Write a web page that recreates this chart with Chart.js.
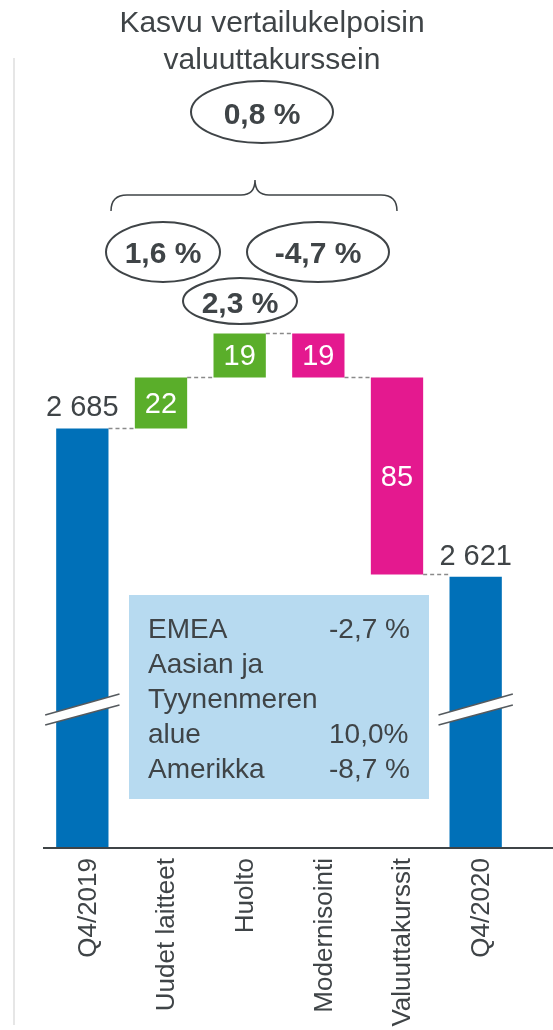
<!DOCTYPE html>
<html>
<head>
<meta charset="utf-8">
<script src="https://cdn.jsdelivr.net/npm/chart.js@4/dist/chart.umd.min.js"></script>
<style>
  html, body { margin: 0; padding: 0; background: #fff; }
</style>
</head>
<body>
<canvas id="myChart" width="553" height="1030"></canvas>
<script>
// Data
const categories = ['Q4/2019', 'Uudet laitteet', 'Huolto', 'Modernisointi', 'Valuuttakurssit', 'Q4/2020']
const changes = [2685, 22, 19, -19, -85, 2621]
const isTotal = [true, false, false, false, false, true]
const titleLines = ['Kasvu vertailukelpoisin', 'valuuttakurssein']
const totalGrowth = '0,8 %'
const growthLabels = ['1,6 %', '2,3 %', '-4,7 %']
const regions = [['EMEA'], ['Aasian ja', 'Tyynenmeren', 'alue'], ['Amerikka']]
const regionGrowth = ['-2,7 %', '10,0%', '-8,7 %']

const yMin = 2504
const yMax = 2762

const FONT = '"Liberation Sans", Arial, sans-serif'
const TEXT = '#3f4447'
const BLUE = '#0070b8'
const GREEN = '#5aae2a'
const PINK = '#e4198f'

// Floating bars: totals from axis, changes from running total
let running = 0
const ranges = changes.map((v, i) => {
  if (isTotal[i]) {
    running = v
    return [yMin, v]
  }
  const start = running
  running += v
  return [start, running]
})
const colors = changes.map((v, i) => (isTotal[i] ? BLUE : v >= 0 ? GREEN : PINK))

function fmt(v) {
  return Math.abs(v).toString().replace(/\B(?=(\d{3})+(?!\d))/g, ' ')
}

function ellipse(ctx, cx, cy, rx, ry, text, baseY) {
  ctx.beginPath()
  ctx.ellipse(cx, cy, rx, ry, 0, 0, Math.PI * 2)
  ctx.strokeStyle = TEXT
  ctx.lineWidth = 2
  ctx.stroke()
  ctx.fillStyle = TEXT
  ctx.font = 'bold 30px ' + FONT
  ctx.textAlign = 'center'
  ctx.textBaseline = 'alphabetic'
  ctx.fillText(text, cx, baseY)
}

const decor = {
  id: 'decor',
  beforeDatasetsDraw(chart) {
    const ctx = chart.ctx
    const meta = chart.getDatasetMeta(0)
    const y = chart.scales.y
    ctx.save()
    // dashed connectors
    ctx.strokeStyle = '#8a8a8a'
    ctx.lineWidth = 1.5
    ctx.setLineDash([4, 3])
    for (let i = 0; i < meta.data.length - 1; i++) {
      const a = meta.data[i]
      const b = meta.data[i + 1]
      const level = y.getPixelForValue(ranges[i][1])
      ctx.beginPath()
      ctx.moveTo(a.x + a.width / 2, level)
      ctx.lineTo(b.x - b.width / 2, level)
      ctx.stroke()
    }
    ctx.restore()
  },
  afterDatasetsDraw(chart) {
    const ctx = chart.ctx
    const meta = chart.getDatasetMeta(0)
    const area = chart.chartArea
    const y = chart.scales.y
    ctx.save()

    // left light line
    ctx.strokeStyle = '#e6e6e6'
    ctx.lineWidth = 2
    ctx.beginPath()
    ctx.moveTo(14, 58)
    ctx.lineTo(14, 1025)
    ctx.stroke()

    // axis line
    ctx.strokeStyle = TEXT
    ctx.lineWidth = 2
    ctx.beginPath()
    ctx.moveTo(area.left, area.bottom)
    ctx.lineTo(553, area.bottom)
    ctx.stroke()

    // bar labels
    meta.data.forEach((bar, i) => {
      if (isTotal[i]) {
        ctx.fillStyle = TEXT
        ctx.font = '29px ' + FONT
        ctx.textAlign = 'center'
        ctx.textBaseline = 'alphabetic'
        ctx.fillText(fmt(changes[i]), bar.x, bar.y - 12)
      } else {
        ctx.fillStyle = '#fff'
        ctx.font = '29px ' + FONT
        ctx.textAlign = 'center'
        ctx.textBaseline = 'middle'
        ctx.fillText(fmt(changes[i]), bar.x, (bar.y + bar.base) / 2 + 2)
      }
    })

    // axis break marks on total bars
    const cy = y.getPixelForValue(2564)
    meta.data.forEach((bar, i) => {
      if (!isTotal[i]) return
      const x0 = bar.x - bar.width / 2 - 11
      const x1 = bar.x + bar.width / 2 + 11
      ctx.fillStyle = '#fff'
      ctx.beginPath()
      ctx.moveTo(x0, cy + 6)
      ctx.lineTo(x1, cy - 15)
      ctx.lineTo(x1, cy - 4)
      ctx.lineTo(x0, cy + 16)
      ctx.closePath()
      ctx.fill()
      ctx.strokeStyle = '#555a5e'
      ctx.lineWidth = 1.5
      ctx.beginPath()
      ctx.moveTo(x0, cy + 6)
      ctx.lineTo(x1, cy - 15)
      ctx.moveTo(x0, cy + 16)
      ctx.lineTo(x1, cy - 4)
      ctx.stroke()
    })

    // info box
    ctx.fillStyle = '#b7daf0'
    ctx.fillRect(129, 595, 300, 204)
    ctx.fillStyle = TEXT
    ctx.font = '28px ' + FONT
    ctx.textAlign = 'left'
    ctx.textBaseline = 'alphabetic'
    let line = 0
    regions.forEach((r, i) => {
      r.forEach((t, j) => {
        ctx.fillText(t, 148, 638 + line * 35)
        if (j === r.length - 1) ctx.fillText(regionGrowth[i], 329, 638 + line * 35)
        line++
      })
    })

    // title
    ctx.font = '30px ' + FONT
    ctx.textAlign = 'center'
    ctx.fillText(titleLines[0], 272, 32)
    ctx.fillText(titleLines[1], 272, 69)

    // growth ellipses
    ellipse(ctx, 262, 112, 71, 31, totalGrowth, 124)
    ellipse(ctx, 163, 252, 57, 30, growthLabels[0], 263)
    ellipse(ctx, 240, 301, 57, 23, growthLabels[1], 313)
    ellipse(ctx, 318, 252, 71, 30, growthLabels[2], 263)

    // brace
    ctx.strokeStyle = TEXT
    ctx.lineWidth = 1.5
    ctx.beginPath()
    ctx.moveTo(111, 211)
    ctx.quadraticCurveTo(111, 195, 127, 195)
    ctx.lineTo(241, 195)
    ctx.quadraticCurveTo(255, 195, 255, 180)
    ctx.quadraticCurveTo(255, 195, 269, 195)
    ctx.lineTo(381, 195)
    ctx.quadraticCurveTo(397, 195, 397, 211)
    ctx.stroke()

    ctx.restore()
  }
}

new Chart(document.getElementById('myChart').getContext('2d'), {
  type: 'bar',
  data: {
    labels: categories,
    datasets: [
      {
        data: ranges,
        backgroundColor: colors,
        borderWidth: 0,
        barPercentage: 1,
        categoryPercentage: 0.665
      }
    ]
  },
  options: {
    responsive: false,
    animation: false,
    devicePixelRatio: 1,
    layout: { padding: { left: 43, right: 38, top: 250, bottom: 0 } },
    plugins: { legend: { display: false }, tooltip: { enabled: false } },
    scales: {
      x: {
        grid: { display: false, drawTicks: false },
        border: { display: false },
        ticks: {
          minRotation: 90,
          maxRotation: 90,
          padding: 10,
          labelOffset: 6,
          color: TEXT,
          font: { size: 26, family: FONT }
        },
        afterFit: s => {
          s.height = 182
        }
      },
      y: { display: false, min: yMin, max: yMax }
    }
  },
  plugins: [decor]
})
</script>
</body>
</html>
